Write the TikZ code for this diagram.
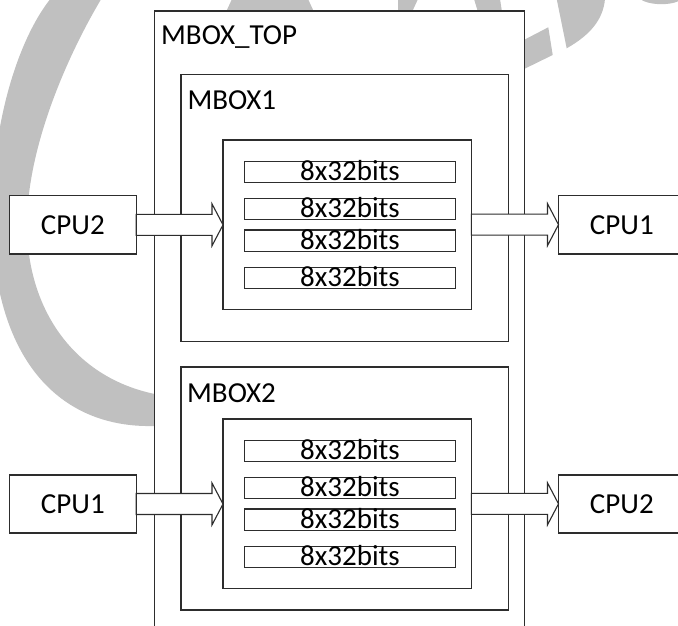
\documentclass[tikz,border=0pt]{standalone}
\usepackage{fontspec}
\setmainfont{Carlito}
\usetikzlibrary{calc}
\definecolor{wm}{RGB}{192,192,192}
\definecolor{ln}{RGB}{45,45,45}
\tikzset{
  box/.style={draw=ln, line width=1.1pt, fill=white, inner sep=0pt, outer sep=0pt, anchor=north west},
  bar/.style={box, minimum width=211.4pt, minimum height=21.4pt, text height=19pt, text depth=2pt,
    font=\fontsize{29}{34}\selectfont},
  cpu/.style={box, minimum width=126.7pt, minimum height=58.3pt, font=\fontsize{29}{34}\selectfont},
  lbl/.style={inner sep=0pt, anchor=base west, font=\fontsize{29}{34}\selectfont},
  barrow/.style={draw=ln, line width=1.1pt, fill=white, line join=miter},
  wmark/.style={fill=wm, draw=none}
}
\begin{document}
\begin{tikzpicture}[x=1pt,y=-1pt]
\useasboundingbox (0,0) rectangle (678,626);
\clip (0,0) rectangle (678,626);
\fill[white] (0,0) rectangle (678,626);
% watermark
\path[wmark] (58,-10) .. controls (20,30) and (-8,120) .. (-8,215)
  .. controls (-8,360) and (60,428) .. (153,426) -- (165,426) -- (165,395) -- (160,395)
  .. controls (75,380) and (27,310) .. (27,225)
  .. controls (27,140) and (75,40) .. (108,-12) -- cycle;
\path[wmark] (520,42) -- (548.3,27.3) -- (552.7,55) -- (520,71) -- cycle;
\path[wmark] (556.7,-1) -- (566.7,48.3) .. controls (590,35) and (603,20) .. (605,-1) -- cycle;
\path[wmark] (640,-1) .. controls (648,5) and (668,6) .. (679,1) -- (679,-1) -- cycle;
\path[wmark] (232,-1) -- (308,-1) -- (314,12) -- (226,12) -- cycle;
\path[wmark] (398,-1) -- (418,-1) -- (412,12) -- (398,12) -- cycle;
\path[wmark] (474,-1) -- (500,-1) -- (502,12) -- (478,12) -- cycle;
% outer box
\node[box, minimum width=370pt, minimum height=640pt] (top) at (154.5,11) {};
\node[lbl] (toplbl) at (161,45) {MBOX\_TOP};
% MBOX1
\node[box, minimum width=327.5pt, minimum height=267pt] (mb1) at (181,74.7) {};
\node[lbl] (mb1lbl) at (187.3,109.3) {MBOX1};
\node[box, minimum width=248.3pt, minimum height=169.3pt] (in1) at (223,140) {};
\node[bar] (b11) at (244.3,161.3) {8x32bits};
\node[bar] (b12) at (244.3,198.3) {8x32bits};
\node[bar] (b13) at (244.3,230) {8x32bits};
\node[bar] (b14) at (244.3,267.3) {8x32bits};
% MBOX2
\node[box, minimum width=327.5pt, minimum height=243pt] (mb2) at (181,367) {};
\node[lbl] (mb2lbl) at (187,402) {MBOX2};
\node[box, minimum width=248.3pt, minimum height=169.7pt] (in2) at (223,419) {};
\node[bar] (b21) at (244.3,440.3) {8x32bits};
\node[bar] (b22) at (244.3,477.3) {8x32bits};
\node[bar] (b23) at (244.3,509) {8x32bits};
\node[bar] (b24) at (244.3,546.3) {8x32bits};
% CPUs
\node[cpu] (cpuA) at (9.5,195.7) {CPU2};
\node[cpu] (cpuB) at (558.5,195.7) {CPU1};
\node[cpu, minimum height=58pt] (cpuC) at (9.5,475) {CPU1};
\node[cpu, minimum height=58pt] (cpuD) at (558.5,475) {CPU2};
% arrows (block arrows from node to node)
\path[barrow] let \p1=(cpuA.east), \p2=(in1.west) in
  (\x1,\y1+10.5pt) -- (\x2-11pt,\y1+10.5pt) -- (\x2-11pt,\y1+21pt) -- (\x2,\y1)
  -- (\x2-11pt,\y1-21pt) -- (\x2-11pt,\y1-10.5pt) -- (\x1,\y1-10.5pt) -- cycle;
\path[barrow] let \p1=(in1.east), \p2=(cpuB.west) in
  (\x1,\y1+10.5pt) -- (\x2-11pt,\y1+10.5pt) -- (\x2-11pt,\y1+21pt) -- (\x2,\y1)
  -- (\x2-11pt,\y1-21pt) -- (\x2-11pt,\y1-10.5pt) -- (\x1,\y1-10.5pt) -- cycle;
\path[barrow] let \p1=(cpuC.east), \p2=(in2.west) in
  (\x1,\y1+10.5pt) -- (\x2-11pt,\y1+10.5pt) -- (\x2-11pt,\y1+21pt) -- (\x2,\y1)
  -- (\x2-11pt,\y1-21pt) -- (\x2-11pt,\y1-10.5pt) -- (\x1,\y1-10.5pt) -- cycle;
\path[barrow] let \p1=(in2.east), \p2=(cpuD.west) in
  (\x1,\y1+10.5pt) -- (\x2-11pt,\y1+10.5pt) -- (\x2-11pt,\y1+21pt) -- (\x2,\y1)
  -- (\x2-11pt,\y1-21pt) -- (\x2-11pt,\y1-10.5pt) -- (\x1,\y1-10.5pt) -- cycle;
\end{tikzpicture}
\end{document}
